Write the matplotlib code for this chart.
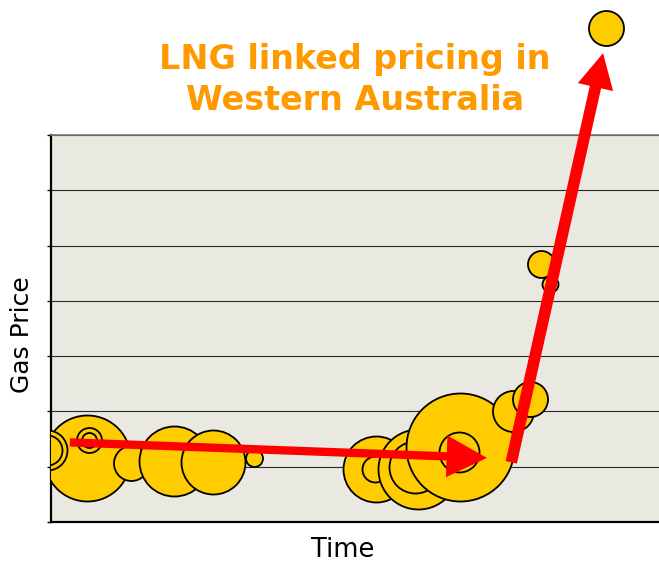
import matplotlib.pyplot as plt
from matplotlib.patches import FancyArrowPatch

# bubble data: time position, gas price, bubble size (drawing order)
time = [5.9, -0.66, -0.66, 6.25, 6.25, 13.2, 20.3, 26.6, 33.4,
        53.5, 53.3, 60.4, 59.9, 67.3, 67.1, 76.0, 78.8, 80.6, 82.1, 91.3]
price = [1.16, 1.30, 1.30, 1.48, 1.48, 1.07, 1.10, 1.08, 1.16,
         0.96, 0.96, 0.96, 0.99, 1.36, 1.27, 2.01, 2.22, 4.67, 4.31, 8.93]
size = [43, 20, 15, 12.5, 7.5, 17.5, 35, 32, 8.5,
        33, 13, 40, 26, 54, 20, 20.5, 17.5, 13.5, 8, 17.5]

# trend arrows (start, end)
trend_flat = [(3.1, 1.44), (71.7, 1.16)]
trend_lng = [(75.7, 1.08), (90.8, 8.48)]

fig = plt.figure(figsize=(6.59, 5.63), dpi=100)
ax = fig.add_axes([0.0774, 0.0728, 0.9226, 0.6874])
ax.set_facecolor('#EAE9E1')
ax.set_xlim(0, 100)
ax.set_ylim(0, 7)

ax.set_yticks(range(8))
ax.set_yticklabels([])
ax.set_xticks([])
ax.tick_params(axis='y', length=3, width=1, color='black')
ax.grid(axis='y', color='#2a2a2a', lw=0.8, zorder=0)
ax.set_axisbelow(True)

for s in ['left', 'bottom']:
    ax.spines[s].set_linewidth(1.6)
    ax.spines[s].set_color('black')
ax.spines['top'].set_color('#777777')
ax.spines['top'].set_linewidth(1.2)
ax.spines['right'].set_visible(False)

for i in range(len(time)):
    sc = ax.scatter(time[i], price[i], s=(1.44 * size[i]) ** 2,
                    facecolor='#FFCC00', edgecolor='black', linewidth=1.3,
                    zorder=3 + i * 0.01)
    if price[i] > 7:
        sc.set_clip_on(False)

ax.add_patch(FancyArrowPatch(trend_flat[0], trend_flat[1],
                             arrowstyle='simple,head_length=29,head_width=30,tail_width=6',
                             mutation_scale=1, color='#FF0000', lw=0,
                             shrinkA=0, shrinkB=0, zorder=5))
ax.add_patch(FancyArrowPatch(trend_lng[0], trend_lng[1],
                             arrowstyle='simple,head_length=25,head_width=26,tail_width=8.3',
                             mutation_scale=1, color='#FF0000', lw=0,
                             shrinkA=0, shrinkB=0, zorder=5, clip_on=False))

fig.text(355 / 659, 1 - 69 / 563, 'LNG linked pricing in', ha='center', va='baseline',
         fontsize=24, fontweight='bold', color='#FF9900')
fig.text(355 / 659, 1 - 110 / 563, 'Western Australia', ha='center', va='baseline',
         fontsize=24, fontweight='bold', color='#FF9900')

fig.text(343 / 659, 1 - 557 / 563, 'Time', ha='center', va='baseline', fontsize=18.5)
fig.text(22 / 659, 1 - 335 / 563, 'Gas Price', ha='center', va='center',
         rotation=90, fontsize=18)

fig.savefig('out.png', dpi=100)
